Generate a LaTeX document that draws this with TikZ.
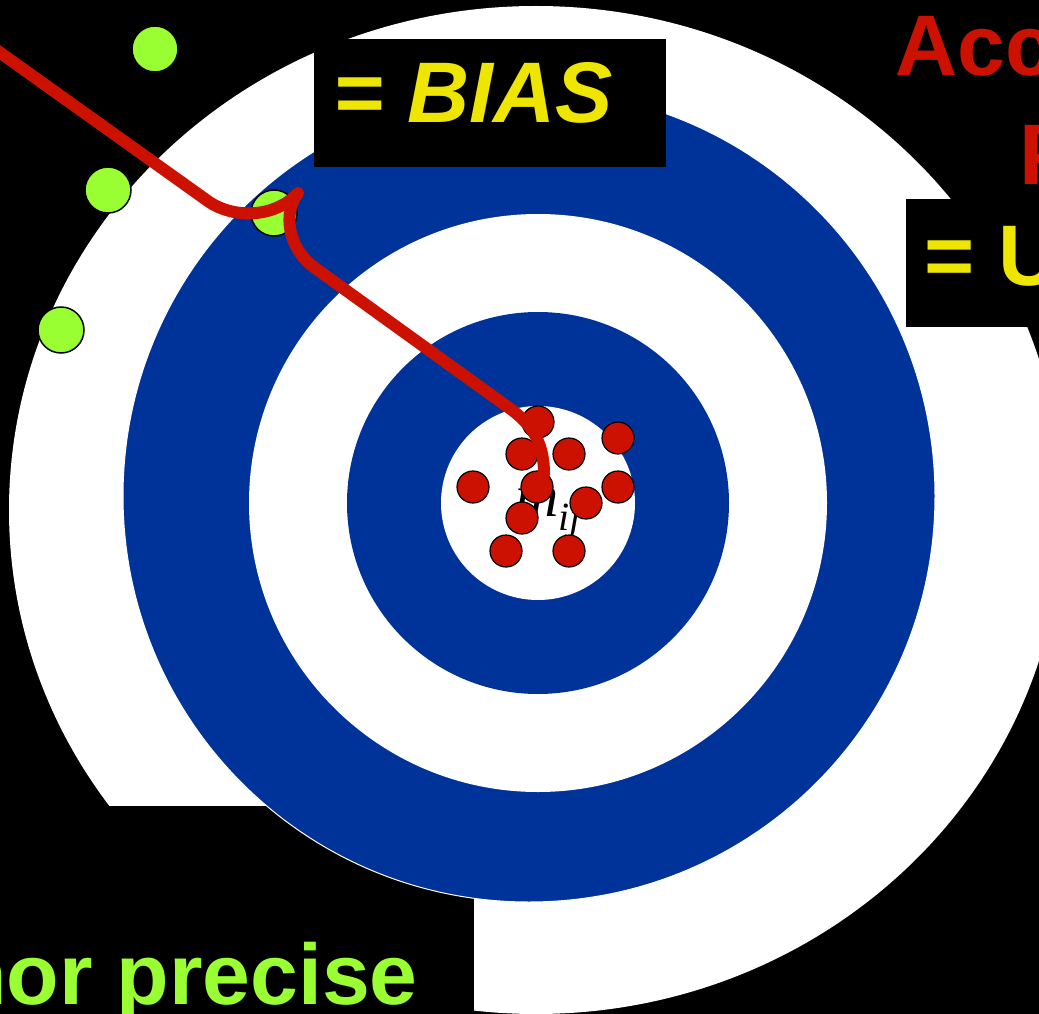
\documentclass[tikz,border=0pt]{standalone}
\usepackage{fontspec}
\setmainfont{Liberation Sans}
\newfontfamily\serifit{Liberation Serif}
\usetikzlibrary{positioning}
\definecolor{target}{HTML}{003399}
\definecolor{hitred}{HTML}{CC1100}
\definecolor{lime}{HTML}{99FF33}
\definecolor{signal}{HTML}{EEE600}

\begin{document}
\begin{tikzpicture}[x=1pt, y=-1pt,
  bigtxt/.style={font=\fontsize{86}{100}\selectfont\bfseries, inner sep=0pt, anchor=base west},
  gdot/.style={circle, draw=black, line width=1.5pt, fill=lime, minimum size=46pt, inner sep=0pt},
  rdot/.style={circle, draw=black, line width=1.2pt, fill=hitred, minimum size=32pt, inner sep=0pt},
  trail/.style={draw=hitred, line width=12pt, line cap=round, line join=round}
]
\useasboundingbox (0,0) rectangle (1039,1014);
\fill[black] (0,0) rectangle (1039,1014);

% target
\fill[white] (536,510) ellipse [x radius=527, y radius=504];
\fill[black] (-5,806) rectangle (474,1020);
\filldraw[fill=target, draw=white, line width=1pt] (529,496) circle [radius=406];
\fill[white] (538,503) circle [radius=289];
\fill[target] (538,503) circle [radius=191];
\fill[white] (538,503) circle [radius=97];

% labels
\fill[black] (314,39) rectangle (666,167);
\fill[black] (906,199) rectangle (1045,327);
\node[bigtxt, text=signal] (bias) at (333,123) {\itshape = BIAS};
\node[bigtxt, text=signal] (unc) at (924,285) {= U};
\node[bigtxt, text=hitred] (acc) at (895,76) {Acc};
\node[bigtxt, text=hitred] (prec) at (1019,185) {P};
\node[bigtxt, text=lime] (nor) at (-46,1004) {nor precise};
\node[font=\serifit\itshape\fontsize{60}{60}\selectfont, inner sep=0pt, anchor=base west] (mij)
  at (515,516) {m\raisebox{-14pt}{\fontsize{40}{40}\selectfont ij}};

% shots
\node[gdot] (g1) at (155,49) {};
\node[gdot] (g2) at (108,190) {};
\node[gdot] (g3) at (61,330) {};
\node[gdot] (g4) at (274,213) {};

\node[rdot] (r1) at (538,422) {};
\node[rdot] (r2) at (522,454) {};
\node[rdot] (r3) at (569,454) {};
\node[rdot] (r4) at (618,438) {};
\node[rdot] (r5) at (473,487) {};
\node[rdot] (r6) at (537,487) {};
\node[rdot] (r7) at (618,487) {};
\node[rdot] (r8) at (586,503) {};
\node[rdot] (r9) at (522,518) {};
\node[rdot] (r10) at (506,551) {};
\node[rdot] (r11) at (569,551) {};

\coordinate (tail) at (-12,44);
\coordinate (tip) at (544,474);
\draw[trail] (tail) -- (205,199) .. controls (232,220) and (275,218) .. (298,193)
  .. controls (283,212) and (287,248) .. (315,268) -- (505,405)
  .. controls (530,422) and (544,440) .. (tip);
\end{tikzpicture}
\end{document}
